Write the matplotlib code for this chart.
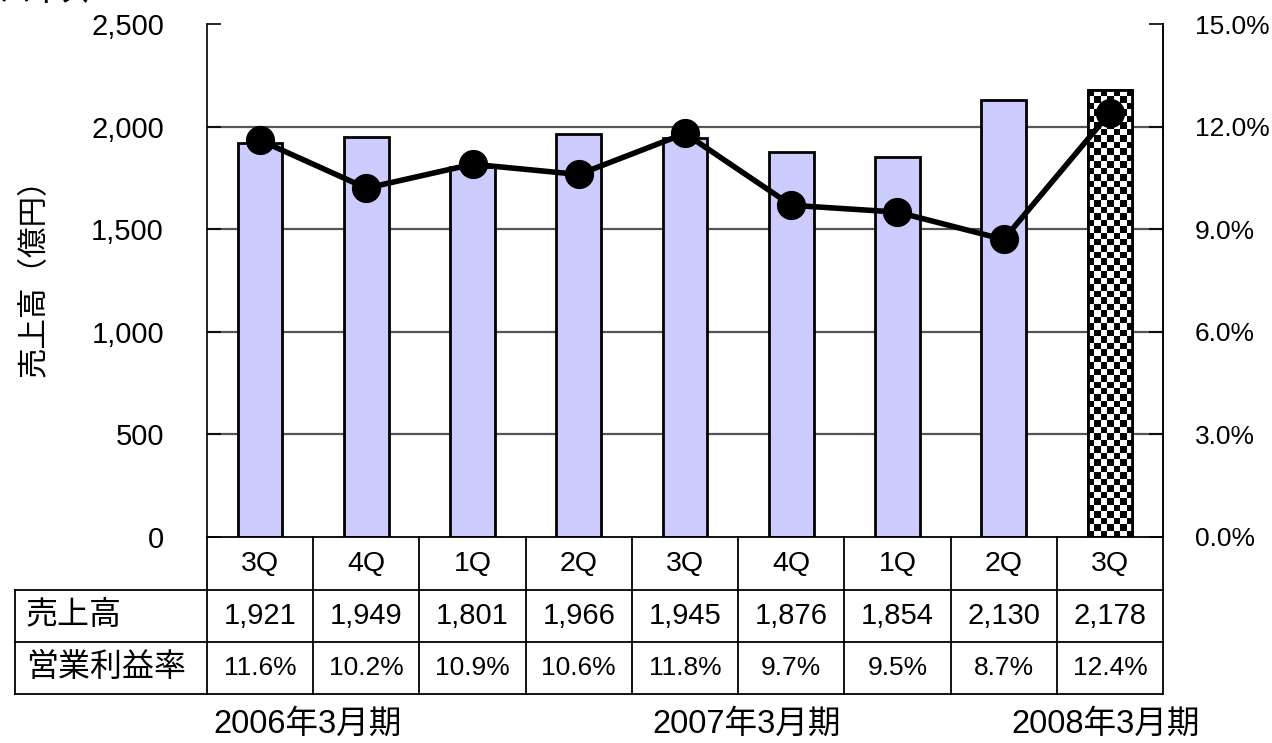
import numpy as np
import matplotlib
matplotlib.use("Agg")
import matplotlib.pyplot as plt
import matplotlib.transforms as mtransforms
from matplotlib.lines import Line2D

plt.rcParams['font.family'] = ['Liberation Sans', 'Noto Sans CJK JP', 'DejaVu Sans']

quarters = ["3Q", "4Q", "1Q", "2Q", "3Q", "4Q", "1Q", "2Q", "3Q"]
sales = [1921, 1949, 1801, 1966, 1945, 1876, 1854, 2130, 2178]
margin = [11.6, 10.2, 10.9, 10.6, 11.8, 9.7, 9.5, 8.7, 12.4]
sales_labels = ["1,921", "1,949", "1,801", "1,966", "1,945", "1,876", "1,854", "2,130", "2,178"]
margin_labels = ["11.6%", "10.2%", "10.9%", "10.6%", "11.8%", "9.7%", "9.5%", "8.7%", "12.4%"]
periods = ["2006年3月期", "2007年3月期", "2008年3月期"]
period_pos = [0.45, 4.58, 7.96]
left_ticks = [0, 500, 1000, 1500, 2000, 2500]
left_labels = ["0", "500", "1,000", "1,500", "2,000", "2,500"]
right_ticks = [0, 3, 6, 9, 12, 15]
right_labels = ["0.0%", "3.0%", "6.0%", "9.0%", "12.0%", "15.0%"]

W, H = 1272, 743
fig = plt.figure(figsize=(W / 100, H / 100), dpi=100)
ax = fig.add_axes([207 / W, (H - 537) / H, 956 / W, 513 / H])
x = np.arange(len(quarters))

ax.set_xlim(-0.5, len(quarters) - 0.5)
ax.set_ylim(0, 2500)
for v in left_ticks[1:-1]:
    ax.axhline(v, color="#555555", lw=1.6, zorder=0)

bars = ax.bar(x, sales, width=0.42, color="#CCCCFF", edgecolor="black", lw=2, zorder=2)

# checkered last bar
last = bars[-1]
last.set_facecolor("white")
bx0 = last.get_x()
bx1 = bx0 + last.get_width()
nrow = 69
checker = (np.indices((nrow, 7)).sum(axis=0) % 2).astype(float)
im = ax.imshow(checker, cmap="gray", extent=(bx0, bx1, 0, last.get_height()),
               aspect="auto", interpolation="nearest", zorder=2.5)
im.set_clip_path(last)
ax.add_patch(plt.Rectangle((bx0, 0), last.get_width(), last.get_height(),
                           fill=False, edgecolor="black", lw=2, zorder=2.6))
ax.set_xlim(-0.5, len(quarters) - 0.5)
ax.set_ylim(0, 2500)

ax.set_xticks([])
ax.set_yticks(left_ticks)
ax.set_yticklabels(left_labels, fontsize=21)
ax.tick_params(axis="y", direction="in", length=10, width=1.2, pad=31)
for s in ["top", "bottom"]:
    ax.spines[s].set_visible(False)
ax.spines["left"].set_linewidth(1.2)
ax.spines["right"].set_linewidth(1.2)
ax.set_ylabel("売上高（億円）", fontsize=22)
ax.yaxis.set_label_coords(-0.165, 0.52)

ax2 = ax.twinx()
ax2.set_ylim(0, 15)
ax2.set_yticks(right_ticks)
ax2.set_yticklabels(right_labels, fontsize=19)
ax2.tick_params(axis="y", direction="in", length=10, width=1.2, pad=23)
for s in ["top", "bottom", "left"]:
    ax2.spines[s].set_visible(False)
ax2.spines["right"].set_linewidth(1.2)
ax2.plot(x, margin, color="black", lw=4, marker="o", markersize=20, zorder=5)
ax2.set_xlim(-0.5, len(quarters) - 0.5)

# data table below
tr = mtransforms.blended_transform_factory(ax.transData, fig.transFigure)
ff = fig.transFigure
rows_y = [537, 590, 642, 694]
ry = [(H - r) / H for r in rows_y]
lw = 1.3
xl, xr = -0.5, len(quarters) - 0.5
fig.add_artist(Line2D([xl, xr], [ry[0], ry[0]], transform=tr, color="black", lw=lw))
for r in ry[1:]:
    fig.add_artist(Line2D([15 / W, 207 / W], [r, r], transform=ff, color="black", lw=lw))
    fig.add_artist(Line2D([xl, xr], [r, r], transform=tr, color="black", lw=lw))
fig.add_artist(Line2D([15 / W, 15 / W], [ry[1], ry[3]], transform=ff, color="black", lw=lw))
for b in np.arange(len(quarters) + 1) - 0.5:
    fig.add_artist(Line2D([b, b], [ry[0], ry[3]], transform=tr, color="black", lw=lw))

mid = [(ry[i] + ry[i + 1]) / 2 for i in range(3)]
for i in range(len(quarters)):
    fig.text(x[i], mid[0], quarters[i], transform=tr, ha="center", va="center", fontsize=20.5)
    fig.text(x[i], mid[1], sales_labels[i], transform=tr, ha="center", va="center", fontsize=21)
    fig.text(x[i], mid[2], margin_labels[i], transform=tr, ha="center", va="center", fontsize=19)
fig.text(26 / W, mid[1], "売上高", ha="left", va="center", fontsize=23)
fig.text(26 / W, mid[2], "営業利益率", ha="left", va="center", fontsize=23)

for p, lab in zip(period_pos, periods):
    fig.text(p, (H - 724) / H, lab, transform=tr, ha="center", va="center", fontsize=23.5)

fig.text(0.0, 1 + 6 / H, "ハイス", ha="left", va="center", fontsize=22)

fig.savefig("out.png", dpi=100)
